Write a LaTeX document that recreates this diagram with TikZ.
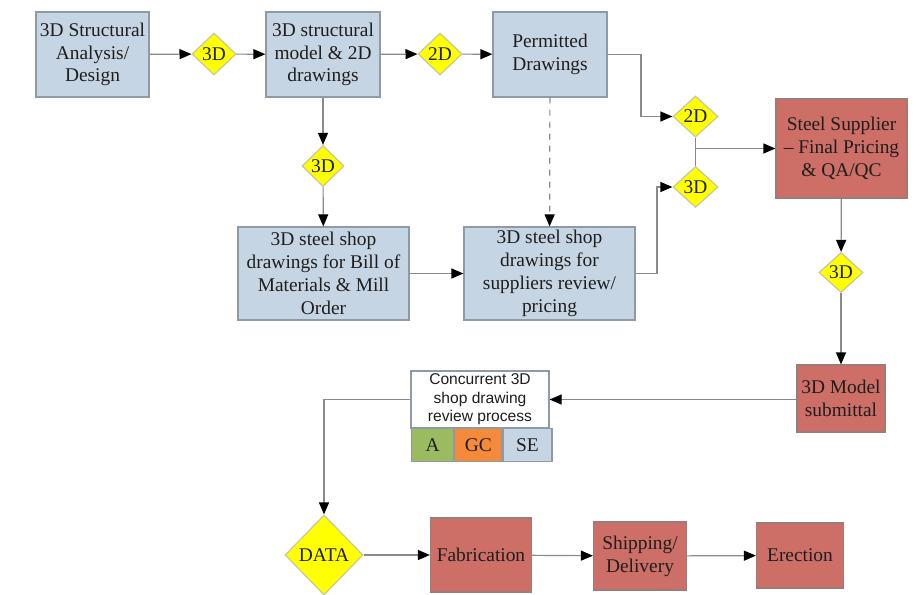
\documentclass[tikz,border=0pt]{standalone}
\usepackage{fontspec}
\setmainfont{Liberation Serif}
\newfontfamily\labelsans{Liberation Sans}
\usetikzlibrary{shapes.geometric,arrows.meta}

\definecolor{procblue}{HTML}{C6D5E4}
\definecolor{procline}{HTML}{8E9AA6}
\definecolor{stagered}{HTML}{CD6E67}
\definecolor{stageline}{HTML}{9E7B78}
\definecolor{gateyellow}{HTML}{FFFF00}
\definecolor{gateline}{HTML}{C9C79A}
\definecolor{wire}{HTML}{8A8A8A}
\definecolor{inkdark}{HTML}{1E1E1E}
\definecolor{cellgreen}{HTML}{9BBB61}
\definecolor{cellorange}{HTML}{F58A3A}

\tikzset{
  x=0.5pt, y=-0.5pt,
  basebox/.style={draw, line width=0.6pt, align=center, inner sep=0pt,
    text=inkdark, font=\fontsize{9.7}{11.4}\selectfont},
  proc/.style={basebox, draw=procline, fill=procblue},
  stage/.style={basebox, draw=stageline, fill=stagered},
  gate/.style={diamond, draw=gateline, fill=gateyellow, line width=0.6pt,
    inner sep=0pt, text=inkdark, font=\fontsize{9.7}{11.4}\selectfont},
  cell/.style={draw=procline, line width=0.6pt, inner sep=0pt,
    minimum height=16.5pt, text=inkdark, font=\fontsize{9.7}{11.4}\selectfont},
  flow/.style={draw=wire, line width=0.6pt,
    -{Triangle[length=6pt,width=5pt,color=black]}},
  link/.style={draw=wire, line width=0.6pt},
}

\begin{document}
\begin{tikzpicture}
\useasboundingbox (0,0) rectangle (915,594);

% --- top row ---
\node[proc, minimum width=56.5pt, minimum height=42.5pt] (design) at (92.5,54.5)
  {3D Structural\\Analysis/\\Design};
\node[gate, minimum width=22pt, minimum height=21pt] (g1) at (214,54) {3D};
\node[proc, minimum width=57pt, minimum height=42.5pt] (model) at (323,54.5)
  {3D structural\\model \& 2D\\drawings};
\node[gate, minimum width=22pt, minimum height=21pt] (g2) at (440,54) {2D};
\node[proc, minimum width=57pt, minimum height=42.5pt] (permit) at (550,54.5)
  {Permitted\\Drawings};

% --- gates feeding the supplier ---
\node[gate, minimum width=22.5pt, minimum height=20.5pt] (g3) at (695.5,116.5) {2D};
\node[gate, minimum width=22.5pt, minimum height=20.5pt] (g4) at (695.5,187) {3D};
\node[stage, minimum width=65.5pt, minimum height=49.5pt] (supplier) at (841.5,148.5)
  {Steel Supplier\\– Final Pricing\\\& QA/QC};

% --- shop drawing row ---
\node[gate, minimum width=21pt, minimum height=20.5pt] (g5) at (323,166) {3D};
\node[proc, minimum width=85.5pt, minimum height=46.5pt] (bom) at (323.5,273.5)
  {3D steel shop\\drawings for Bill of\\Materials \& Mill\\Order};
\node[proc, minimum width=85.5pt, minimum height=46.5pt] (review) at (549.5,273.5)
  {3D steel shop\\drawings for\\suppliers review/\\pricing};

% --- submittal ---
\node[gate, minimum width=22pt, minimum height=20pt] (g6) at (841,272.5) {3D};
\node[stage, minimum width=44pt, minimum height=33.5pt] (submit) at (841,398.5)
  {3D Model\\submittal};

% --- concurrent review block ---
\node[draw=procline, fill=white, line width=0.6pt, inner sep=0pt,
  minimum width=69pt, minimum height=28.5pt, align=center, text=inkdark,
  font=\labelsans\fontsize{7.8}{9.3}\selectfont] (conc) at (480,399.5)
  {Concurrent 3D\\shop drawing\\review process};
\node[cell, fill=cellgreen, minimum width=21pt, anchor=north west] (cA)
  at (411,428) {A};
\node[cell, fill=cellorange, minimum width=23.5pt, anchor=north west] (cGC)
  at (cA.north east) {GC};
\node[cell, fill=procblue, minimum width=24.5pt, anchor=north west] (cSE)
  at (cGC.north east) {SE};

% --- bottom row ---
\node[gate, minimum width=39pt, minimum height=40pt] (data) at (324,555) {DATA};
\node[stage, minimum width=50.5pt, minimum height=37pt] (fab) at (481,555)
  {Fabrication};
\node[stage, minimum width=46.5pt, minimum height=34pt] (ship) at (640,556)
  {Shipping/\\Delivery};
\node[stage, minimum width=43.5pt, minimum height=32.5pt] (erect) at (800,555.5)
  {Erection};

% --- routing points ---
\coordinate (permitTurn) at (641,54.5);
\coordinate (reviewTurn) at (657,273.5);
\coordinate (concTurn) at (324,399.5);

% --- connectors ---
\draw[flow] (design) -- (g1);
\draw[flow] (g1) -- (model);
\draw[flow] (model) -- (g2);
\draw[flow] (g2) -- (permit);
\draw[flow] (permit.east) -- (permitTurn) |- (g3.west);
\draw[link] (g3.south) -- (g4.north);
\draw[flow] (g3.south |- supplier.west) -- (supplier.west);
\draw[flow] (model) -- (g5);
\draw[flow] (g5) -- (bom);
\draw[flow] (bom) -- (review);
\draw[flow, dashed] (permit) -- (review);
\draw[flow] (review.east) -- (reviewTurn) |- (g4.west);
\draw[flow] (supplier) -- (g6);
\draw[flow] (g6) -- (submit);
\draw[flow] (submit.west |- conc.east) -- (conc.east);
\draw[flow] (conc.west) -- (concTurn) -- (data.north);
\draw[flow] (data) -- (fab);
\draw[flow] (fab) -- (ship);
\draw[flow] (ship) -- (erect);
\end{tikzpicture}
\end{document}
